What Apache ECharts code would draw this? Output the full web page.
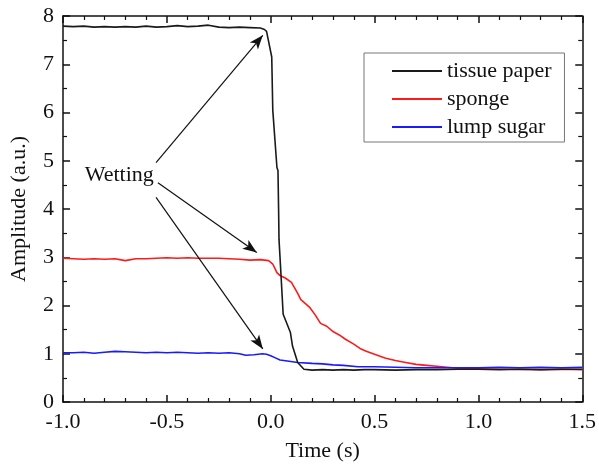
<!DOCTYPE html>
<html>
<head>
<meta charset="utf-8">
<script src="https://cdn.jsdelivr.net/npm/echarts@6/dist/echarts.min.js"></script>
<style>html,body{margin:0;padding:0;background:#fff;}#c{width:599px;height:467px;}</style>
</head>
<body>
<div id="c"></div>
<script>
const tissuePaper = [
  [-1.00,7.79],[-0.95,7.78],[-0.90,7.79],[-0.85,7.77],[-0.80,7.78],[-0.75,7.77],[-0.70,7.78],[-0.65,7.77],
  [-0.60,7.79],[-0.55,7.77],[-0.50,7.78],[-0.45,7.80],[-0.40,7.78],[-0.35,7.79],[-0.30,7.81],[-0.25,7.77],
  [-0.20,7.76],[-0.15,7.77],[-0.10,7.76],[-0.05,7.75],[-0.03,7.72],[-0.02,7.68],[0.005,7.15],[0.01,6.05],
  [0.03,4.86],[0.035,4.80],[0.038,4.00],[0.04,3.37],[0.05,2.60],[0.06,1.82],[0.095,1.44],[0.105,1.16],
  [0.13,0.82],[0.16,0.68],[0.20,0.66],[0.25,0.67],[0.30,0.66],[0.35,0.67],[0.40,0.66],[0.45,0.67],
  [0.50,0.67],[0.60,0.66],[0.70,0.67],[0.80,0.67],[0.90,0.68],[1.00,0.68],[1.10,0.67],[1.20,0.68],
  [1.30,0.67],[1.40,0.68],[1.50,0.68]
];
const sponge = [
  [-1.00,2.98],[-0.95,2.97],[-0.90,2.96],[-0.85,2.97],[-0.80,2.96],[-0.75,2.97],[-0.70,2.93],[-0.65,2.97],
  [-0.60,2.97],[-0.55,2.98],[-0.50,2.99],[-0.45,2.98],[-0.40,2.99],[-0.35,2.98],[-0.30,2.98],[-0.25,2.98],
  [-0.20,2.97],[-0.15,2.96],[-0.10,2.94],[-0.05,2.95],[-0.01,2.93],[0.01,2.86],[0.03,2.68],[0.045,2.62],
  [0.07,2.57],[0.10,2.48],[0.13,2.25],[0.145,2.12],[0.17,2.03],[0.19,1.95],[0.215,1.80],[0.24,1.63],
  [0.27,1.57],[0.30,1.46],[0.33,1.39],[0.36,1.30],[0.40,1.20],[0.43,1.11],[0.46,1.05],[0.50,0.99],
  [0.55,0.91],[0.60,0.86],[0.65,0.82],[0.70,0.78],[0.75,0.76],[0.80,0.74],[0.85,0.72],[0.90,0.70],
  [0.95,0.69],[1.00,0.69],[1.10,0.68],[1.20,0.68],[1.30,0.67],[1.40,0.68],[1.50,0.67]
];
const lumpSugar = [
  [-1.00,1.02],[-0.95,1.02],[-0.90,1.03],[-0.85,1.01],[-0.80,1.03],[-0.75,1.05],[-0.70,1.04],[-0.65,1.03],
  [-0.60,1.02],[-0.55,1.03],[-0.50,1.02],[-0.45,1.03],[-0.40,1.02],[-0.35,1.01],[-0.30,1.02],[-0.25,1.01],
  [-0.20,1.02],[-0.15,1.00],[-0.12,0.97],[-0.08,0.98],[-0.04,1.00],[-0.02,0.99],[0.00,0.96],[0.02,0.92],
  [0.045,0.87],[0.08,0.85],[0.13,0.82],[0.20,0.80],[0.25,0.79],[0.30,0.77],[0.35,0.76],[0.42,0.73],
  [0.50,0.73],[0.60,0.72],[0.70,0.71],[0.80,0.71],[0.90,0.71],[1.00,0.71],[1.10,0.72],[1.20,0.71],
  [1.30,0.72],[1.40,0.71],[1.50,0.72]
];
const seriesNames = ['tissue paper','sponge','lump sugar'];
const seriesColors = ['#1a1a1a','#ff1a1a','#1a1aff'];
const annotationText = 'Wetting';
const annotationPos = [-0.729, 4.69];
const arrows = [
  [[-0.552,4.96],[-0.038,7.60]],
  [[-0.543,4.545],[-0.067,3.10]],
  [[-0.552,4.24],[-0.038,1.10]]
];
const xTicks = {min:-1.0,max:1.5,interval:0.5};
const yTicks = {min:0,max:8,interval:1};

const FONT = "'Liberation Serif','Times New Roman',serif";
const chart = echarts.init(document.getElementById('c'), null, {renderer:'canvas'});
const axisLine = {show:true, onZero:false, lineStyle:{color:'#111', width:1.5}};
const tick = {show:true, inside:true, length:7, lineStyle:{color:'#111', width:1.5}};
const minor = {show:true, splitNumber:5, length:4, lineStyle:{color:'#111', width:1.2}};
const minorY = {show:true, splitNumber:2, length:4, lineStyle:{color:'#111', width:1.2}};
const lbl = {color:'#111', fontSize:22, fontFamily:FONT};

const data = [tissuePaper, sponge, lumpSugar];
const series = data.map((d,i)=>({
  name: seriesNames[i], type:'line', data:d, symbol:'none', showSymbol:false,
  lineStyle:{color:seriesColors[i], width:1.6}, itemStyle:{color:seriesColors[i]},
  z: i===0 ? 3 : 2, animation:false
}));
series.push({
  type:'line', data:[], symbol:'none', animation:false,
  markLine:{
    silent:true, symbol:['none','arrow'], symbolSize:[8,14], animation:false,
    lineStyle:{color:'#111', width:1.2, type:'solid'}, label:{show:false},
    data: arrows.map(a=>[{coord:a[0]},{coord:a[1]}])
  },
  markPoint:{
    silent:true, symbol:'circle', symbolSize:0, animation:false,
    label:{show:true, formatter:annotationText, color:'#111', fontSize:22, fontFamily:FONT, position:'inside'},
    data:[{coord:annotationPos}]
  }
});

chart.setOption({
  animation:false,
  backgroundColor:'#fff',
  grid:{left:61, right:13, top:16, bottom:64, containLabel:false},
  legend:{
    data: seriesNames, orient:'vertical', left:364, top:53,
    itemWidth:50, itemHeight:14, itemGap:6,
    padding:[7,13,4,28], borderColor:'#777', borderWidth:1,
    textStyle:{color:'#111', fontSize:22, fontFamily:FONT, lineHeight:22},
    icon:'path://M0,0 L50,0 L50,2 L0,2 Z'
  },
  xAxis:[
    {type:'value', min:xTicks.min, max:xTicks.max, interval:xTicks.interval, position:'bottom',
     name:'Time (s)', nameLocation:'middle', nameGap:38, nameTextStyle:{color:'#111', fontSize:22, fontFamily:FONT},
     axisLine, axisTick:tick, minorTick:minor, splitLine:{show:false}, minorSplitLine:{show:false},
     axisLabel:Object.assign({margin:9, formatter:v=>v.toFixed(1)}, lbl)},
    {type:'value', min:xTicks.min, max:xTicks.max, interval:xTicks.interval, position:'top',
     axisLine, axisTick:tick, minorTick:minor, splitLine:{show:false}, axisLabel:{show:false}}
  ],
  yAxis:[
    {type:'value', min:yTicks.min, max:yTicks.max, interval:yTicks.interval, position:'left',
     name:'Amplitude (a.u.)', nameLocation:'middle', nameGap:33, nameTextStyle:{color:'#111', fontSize:22, fontFamily:FONT},
     axisLine, axisTick:tick, minorTick:minorY, splitLine:{show:false},
     axisLabel:Object.assign({margin:9}, lbl)},
    {type:'value', min:yTicks.min, max:yTicks.max, interval:yTicks.interval, position:'right',
     axisLine, axisTick:tick, minorTick:minorY, splitLine:{show:false}, axisLabel:{show:false}}
  ],
  series
});
</script>
</body>
</html>
